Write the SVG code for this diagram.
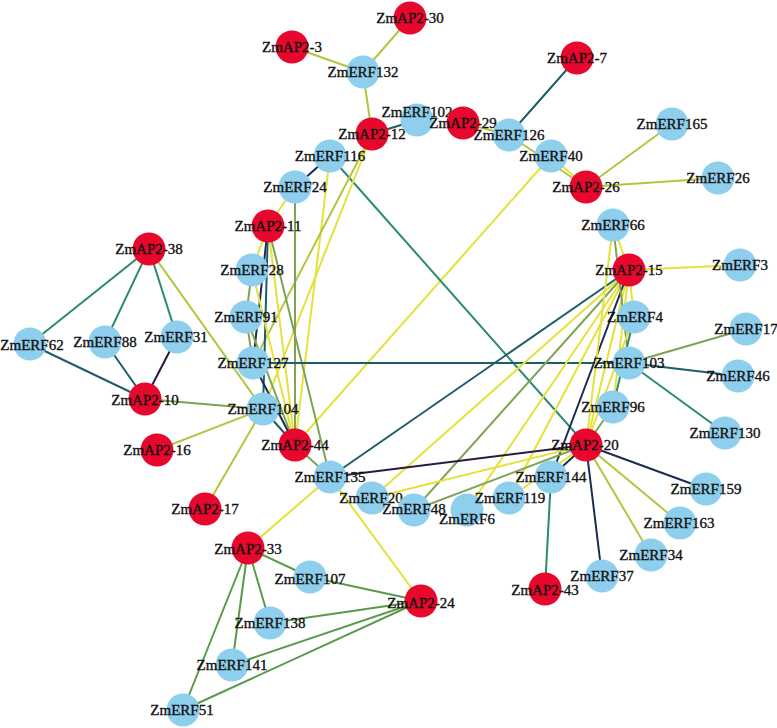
<svg xmlns="http://www.w3.org/2000/svg" width="777" height="728" viewBox="0 0 777 728">
<defs>
<style>
.e{fill:none;stroke-width:2;stroke-linecap:round}
.Y{stroke:#e4e23a}
.YG{stroke:#b3c63f}
.OG{stroke:#7ea453}
.G{stroke:#5a9a4c}
.T{stroke:#2b8a72}
.DT{stroke:#1c5e6a}
.NV{stroke:#1b2b52}
.PB{stroke:#2a1a3c}
.r{fill:#e8072d}
.b{fill:#8ecfee}
text{font-family:"Liberation Serif","Times New Roman",serif;font-size:15px;fill:#111;stroke:#111;stroke-width:0.35;text-anchor:middle}
</style>
</defs>
<rect width="777" height="728" fill="#ffffff"/>
<g id="edges">
<line class="e YG" x1="292" y1="47" x2="363" y2="72"/>
<line class="e YG" x1="410" y1="18" x2="363" y2="72"/>
<line class="e YG" x1="363" y1="72" x2="372" y2="134"/>
<line class="e DT" x1="372" y1="134" x2="417" y2="120"/>
<line class="e YG" x1="463" y1="123" x2="509" y2="135"/>
<line class="e DT" x1="509" y1="135" x2="577" y2="58"/>
<line class="e YG" x1="509" y1="135" x2="586" y2="187"/>
<line class="e Y" x1="551" y1="156" x2="586" y2="187"/>
<line class="e YG" x1="586" y1="187" x2="672" y2="124"/>
<line class="e YG" x1="586" y1="187" x2="718" y2="178"/>
<line class="e Y" x1="551" y1="156" x2="295" y2="445"/>
<line class="e T" x1="330" y1="156" x2="586" y2="445"/>
<line class="e NV" x1="330" y1="156" x2="295" y2="187"/>
<line class="e Y" x1="330" y1="156" x2="295" y2="445"/>
<line class="e YG" x1="372" y1="134" x2="253" y2="363"/>
<line class="e Y" x1="372" y1="134" x2="263" y2="409"/>
<line class="e Y" x1="295" y1="187" x2="268" y2="226"/>
<line class="e OG" x1="295" y1="187" x2="295" y2="445"/>
<line class="e Y" x1="268" y1="226" x2="252" y2="270"/>
<line class="e NV" x1="268" y1="226" x2="253" y2="363"/>
<line class="e DT" x1="268" y1="226" x2="263" y2="409"/>
<line class="e Y" x1="268" y1="226" x2="295" y2="445"/>
<line class="e OG" x1="268" y1="226" x2="330" y2="477"/>
<line class="e OG" x1="252" y1="270" x2="246" y2="317"/>
<line class="e Y" x1="252" y1="270" x2="295" y2="445"/>
<line class="e OG" x1="246" y1="317" x2="253" y2="363"/>
<line class="e OG" x1="246" y1="317" x2="295" y2="445"/>
<line class="e NV" x1="253" y1="363" x2="295" y2="445"/>
<line class="e DT" x1="263" y1="409" x2="295" y2="445"/>
<line class="e DT" x1="253" y1="363" x2="629" y2="363"/>
<line class="e OG" x1="295" y1="445" x2="330" y2="477"/>
<line class="e T" x1="149" y1="249" x2="30" y2="344"/>
<line class="e T" x1="149" y1="249" x2="105" y2="342"/>
<line class="e T" x1="149" y1="249" x2="177" y2="337"/>
<line class="e YG" x1="149" y1="249" x2="263" y2="409"/>
<line class="e DT" x1="30" y1="344" x2="145" y2="399"/>
<line class="e DT" x1="105" y1="342" x2="145" y2="399"/>
<line class="e PB" x1="177" y1="337" x2="145" y2="399"/>
<line class="e OG" x1="145" y1="399" x2="263" y2="409"/>
<line class="e YG" x1="157" y1="450" x2="263" y2="409"/>
<line class="e YG" x1="205" y1="509" x2="263" y2="409"/>
<line class="e Y" x1="248" y1="548" x2="330" y2="477"/>
<line class="e Y" x1="330" y1="477" x2="421" y2="601"/>
<line class="e G" x1="248" y1="548" x2="310" y2="577"/>
<line class="e G" x1="248" y1="548" x2="270" y2="623"/>
<line class="e G" x1="248" y1="548" x2="232" y2="665"/>
<line class="e G" x1="248" y1="548" x2="183" y2="710"/>
<line class="e G" x1="421" y1="601" x2="310" y2="577"/>
<line class="e G" x1="421" y1="601" x2="270" y2="623"/>
<line class="e G" x1="421" y1="601" x2="232" y2="665"/>
<line class="e G" x1="421" y1="601" x2="183" y2="710"/>
<line class="e Y" x1="629" y1="270" x2="613" y2="225"/>
<line class="e Y" x1="629" y1="270" x2="740" y2="265"/>
<line class="e DT" x1="629" y1="270" x2="330" y2="477"/>
<line class="e Y" x1="629" y1="270" x2="372" y2="498"/>
<line class="e OG" x1="629" y1="270" x2="414" y2="510"/>
<line class="e Y" x1="629" y1="270" x2="467" y2="510"/>
<line class="e Y" x1="629" y1="270" x2="509" y2="498"/>
<line class="e NV" x1="629" y1="270" x2="551" y2="477"/>
<line class="e Y" x1="629" y1="270" x2="586" y2="445"/>
<line class="e Y" x1="629" y1="270" x2="634" y2="317"/>
<line class="e Y" x1="629" y1="270" x2="613" y2="407"/>
<line class="e Y" x1="613" y1="225" x2="586" y2="445"/>
<line class="e OG" x1="613" y1="225" x2="629" y2="363"/>
<line class="e Y" x1="634" y1="317" x2="586" y2="445"/>
<line class="e T" x1="634" y1="317" x2="613" y2="407"/>
<line class="e OG" x1="629" y1="363" x2="746" y2="329"/>
<line class="e DT" x1="629" y1="363" x2="738" y2="376"/>
<line class="e T" x1="629" y1="363" x2="725" y2="433"/>
<line class="e PB" x1="586" y1="445" x2="330" y2="477"/>
<line class="e Y" x1="586" y1="445" x2="372" y2="498"/>
<line class="e OG" x1="586" y1="445" x2="414" y2="510"/>
<line class="e NV" x1="586" y1="445" x2="551" y2="477"/>
<line class="e Y" x1="586" y1="445" x2="509" y2="498"/>
<line class="e OG" x1="586" y1="445" x2="613" y2="407"/>
<line class="e NV" x1="586" y1="445" x2="706" y2="489"/>
<line class="e YG" x1="586" y1="445" x2="680" y2="523"/>
<line class="e YG" x1="586" y1="445" x2="651" y2="555"/>
<line class="e NV" x1="586" y1="445" x2="602" y2="576"/>
<line class="e T" x1="551" y1="477" x2="545" y2="589"/>
</g>
<g id="n-ZmAP2-30"><circle class="r" cx="410" cy="18" r="16.5"/><text x="410" y="18" dy="0.35em">ZmAP2-30</text></g>
<g id="n-ZmAP2-3"><circle class="r" cx="292" cy="47" r="16.5"/><text x="292" y="47" dy="0.35em">ZmAP2-3</text></g>
<g id="n-ZmERF132"><circle class="b" cx="363" cy="72" r="16.5"/><text x="363" y="72" dy="0.35em">ZmERF132</text></g>
<g id="n-ZmAP2-7"><circle class="r" cx="577" cy="58" r="16.5"/><text x="577" y="58" dy="0.35em">ZmAP2-7</text></g>
<g id="n-ZmAP2-12"><circle class="r" cx="372" cy="134" r="16.5"/><text x="372" y="134" dy="0.35em">ZmAP2-12</text></g>
<g id="n-ZmERF102"><circle class="b" cx="417" cy="120" r="16.5"/><text x="417" y="112" dy="0.35em">ZmERF102</text></g>
<g id="n-ZmAP2-29"><circle class="r" cx="463" cy="123" r="16.5"/><text x="463" y="123" dy="0.35em">ZmAP2-29</text></g>
<g id="n-ZmERF126"><circle class="b" cx="509" cy="135" r="16.5"/><text x="509" y="135" dy="0.35em">ZmERF126</text></g>
<g id="n-ZmERF40"><circle class="b" cx="551" cy="156" r="16.5"/><text x="551" y="156" dy="0.35em">ZmERF40</text></g>
<g id="n-ZmAP2-26"><circle class="r" cx="586" cy="187" r="16.5"/><text x="586" y="187" dy="0.35em">ZmAP2-26</text></g>
<g id="n-ZmERF165"><circle class="b" cx="672" cy="124" r="16.5"/><text x="672" y="124" dy="0.35em">ZmERF165</text></g>
<g id="n-ZmERF26"><circle class="b" cx="718" cy="178" r="16.5"/><text x="718" y="178" dy="0.35em">ZmERF26</text></g>
<g id="n-ZmERF116"><circle class="b" cx="330" cy="156" r="16.5"/><text x="330" y="156" dy="0.35em">ZmERF116</text></g>
<g id="n-ZmERF24"><circle class="b" cx="295" cy="187" r="16.5"/><text x="295" y="187" dy="0.35em">ZmERF24</text></g>
<g id="n-ZmAP2-11"><circle class="r" cx="268" cy="226" r="16.5"/><text x="268" y="226" dy="0.35em">ZmAP2-11</text></g>
<g id="n-ZmERF28"><circle class="b" cx="252" cy="270" r="16.5"/><text x="252" y="270" dy="0.35em">ZmERF28</text></g>
<g id="n-ZmERF91"><circle class="b" cx="246" cy="317" r="16.5"/><text x="246" y="317" dy="0.35em">ZmERF91</text></g>
<g id="n-ZmERF127"><circle class="b" cx="253" cy="363" r="16.5"/><text x="253" y="363" dy="0.35em">ZmERF127</text></g>
<g id="n-ZmERF104"><circle class="b" cx="263" cy="409" r="16.5"/><text x="263" y="409" dy="0.35em">ZmERF104</text></g>
<g id="n-ZmAP2-44"><circle class="r" cx="295" cy="445" r="16.5"/><text x="295" y="445" dy="0.35em">ZmAP2-44</text></g>
<g id="n-ZmAP2-38"><circle class="r" cx="149" cy="249" r="16.5"/><text x="149" y="249" dy="0.35em">ZmAP2-38</text></g>
<g id="n-ZmERF62"><circle class="b" cx="30" cy="344" r="16.5"/><text x="32" y="345" dy="0.35em">ZmERF62</text></g>
<g id="n-ZmERF88"><circle class="b" cx="105" cy="342" r="16.5"/><text x="105" y="342" dy="0.35em">ZmERF88</text></g>
<g id="n-ZmERF31"><circle class="b" cx="177" cy="337" r="16.5"/><text x="176" y="337" dy="0.35em">ZmERF31</text></g>
<g id="n-ZmAP2-10"><circle class="r" cx="145" cy="399" r="16.5"/><text x="145" y="400" dy="0.35em">ZmAP2-10</text></g>
<g id="n-ZmAP2-16"><circle class="r" cx="157" cy="450" r="16.5"/><text x="157" y="450" dy="0.35em">ZmAP2-16</text></g>
<g id="n-ZmAP2-17"><circle class="r" cx="205" cy="509" r="16.5"/><text x="205" y="509" dy="0.35em">ZmAP2-17</text></g>
<g id="n-ZmERF135"><circle class="b" cx="330" cy="477" r="16.5"/><text x="330" y="477" dy="0.35em">ZmERF135</text></g>
<g id="n-ZmERF20"><circle class="b" cx="372" cy="498" r="16.5"/><text x="371" y="498" dy="0.35em">ZmERF20</text></g>
<g id="n-ZmERF48"><circle class="b" cx="414" cy="510" r="16.5"/><text x="414" y="509" dy="0.35em">ZmERF48</text></g>
<g id="n-ZmERF6"><circle class="b" cx="467" cy="510" r="16.5"/><text x="467" y="519" dy="0.35em">ZmERF6</text></g>
<g id="n-ZmERF119"><circle class="b" cx="509" cy="498" r="16.5"/><text x="510" y="498" dy="0.35em">ZmERF119</text></g>
<g id="n-ZmERF144"><circle class="b" cx="551" cy="477" r="16.5"/><text x="551" y="477" dy="0.35em">ZmERF144</text></g>
<g id="n-ZmAP2-20"><circle class="r" cx="586" cy="445" r="16.5"/><text x="585" y="445" dy="0.35em">ZmAP2-20</text></g>
<g id="n-ZmAP2-43"><circle class="r" cx="545" cy="589" r="16.5"/><text x="545" y="590" dy="0.35em">ZmAP2-43</text></g>
<g id="n-ZmERF66"><circle class="b" cx="613" cy="225" r="16.5"/><text x="613" y="225" dy="0.35em">ZmERF66</text></g>
<g id="n-ZmAP2-15"><circle class="r" cx="629" cy="270" r="16.5"/><text x="629" y="270" dy="0.35em">ZmAP2-15</text></g>
<g id="n-ZmERF3"><circle class="b" cx="740" cy="265" r="16.5"/><text x="740" y="265" dy="0.35em">ZmERF3</text></g>
<g id="n-ZmERF4"><circle class="b" cx="634" cy="317" r="16.5"/><text x="635" y="317" dy="0.35em">ZmERF4</text></g>
<g id="n-ZmERF17"><circle class="b" cx="746" cy="329" r="16.5"/><text x="746" y="329" dy="0.35em">ZmERF17</text></g>
<g id="n-ZmERF103"><circle class="b" cx="629" cy="363" r="16.5"/><text x="629" y="363" dy="0.35em">ZmERF103</text></g>
<g id="n-ZmERF46"><circle class="b" cx="738" cy="376" r="16.5"/><text x="738" y="376" dy="0.35em">ZmERF46</text></g>
<g id="n-ZmERF96"><circle class="b" cx="613" cy="407" r="16.5"/><text x="613" y="407" dy="0.35em">ZmERF96</text></g>
<g id="n-ZmERF130"><circle class="b" cx="725" cy="433" r="16.5"/><text x="725" y="433" dy="0.35em">ZmERF130</text></g>
<g id="n-ZmERF159"><circle class="b" cx="706" cy="489" r="16.5"/><text x="706" y="489" dy="0.35em">ZmERF159</text></g>
<g id="n-ZmERF163"><circle class="b" cx="680" cy="523" r="16.5"/><text x="679" y="523" dy="0.35em">ZmERF163</text></g>
<g id="n-ZmERF34"><circle class="b" cx="651" cy="555" r="16.5"/><text x="651" y="555" dy="0.35em">ZmERF34</text></g>
<g id="n-ZmERF37"><circle class="b" cx="602" cy="576" r="16.5"/><text x="602" y="576" dy="0.35em">ZmERF37</text></g>
<g id="n-ZmAP2-33"><circle class="r" cx="248" cy="548" r="16.5"/><text x="248" y="549" dy="0.35em">ZmAP2-33</text></g>
<g id="n-ZmERF107"><circle class="b" cx="310" cy="577" r="16.5"/><text x="310" y="579" dy="0.35em">ZmERF107</text></g>
<g id="n-ZmAP2-24"><circle class="r" cx="421" cy="601" r="16.5"/><text x="421" y="603" dy="0.35em">ZmAP2-24</text></g>
<g id="n-ZmERF138"><circle class="b" cx="270" cy="623" r="16.5"/><text x="270" y="623" dy="0.35em">ZmERF138</text></g>
<g id="n-ZmERF141"><circle class="b" cx="232" cy="665" r="16.5"/><text x="232" y="665" dy="0.35em">ZmERF141</text></g>
<g id="n-ZmERF51"><circle class="b" cx="183" cy="710" r="16.5"/><text x="182" y="710" dy="0.35em">ZmERF51</text></g>
</svg>
